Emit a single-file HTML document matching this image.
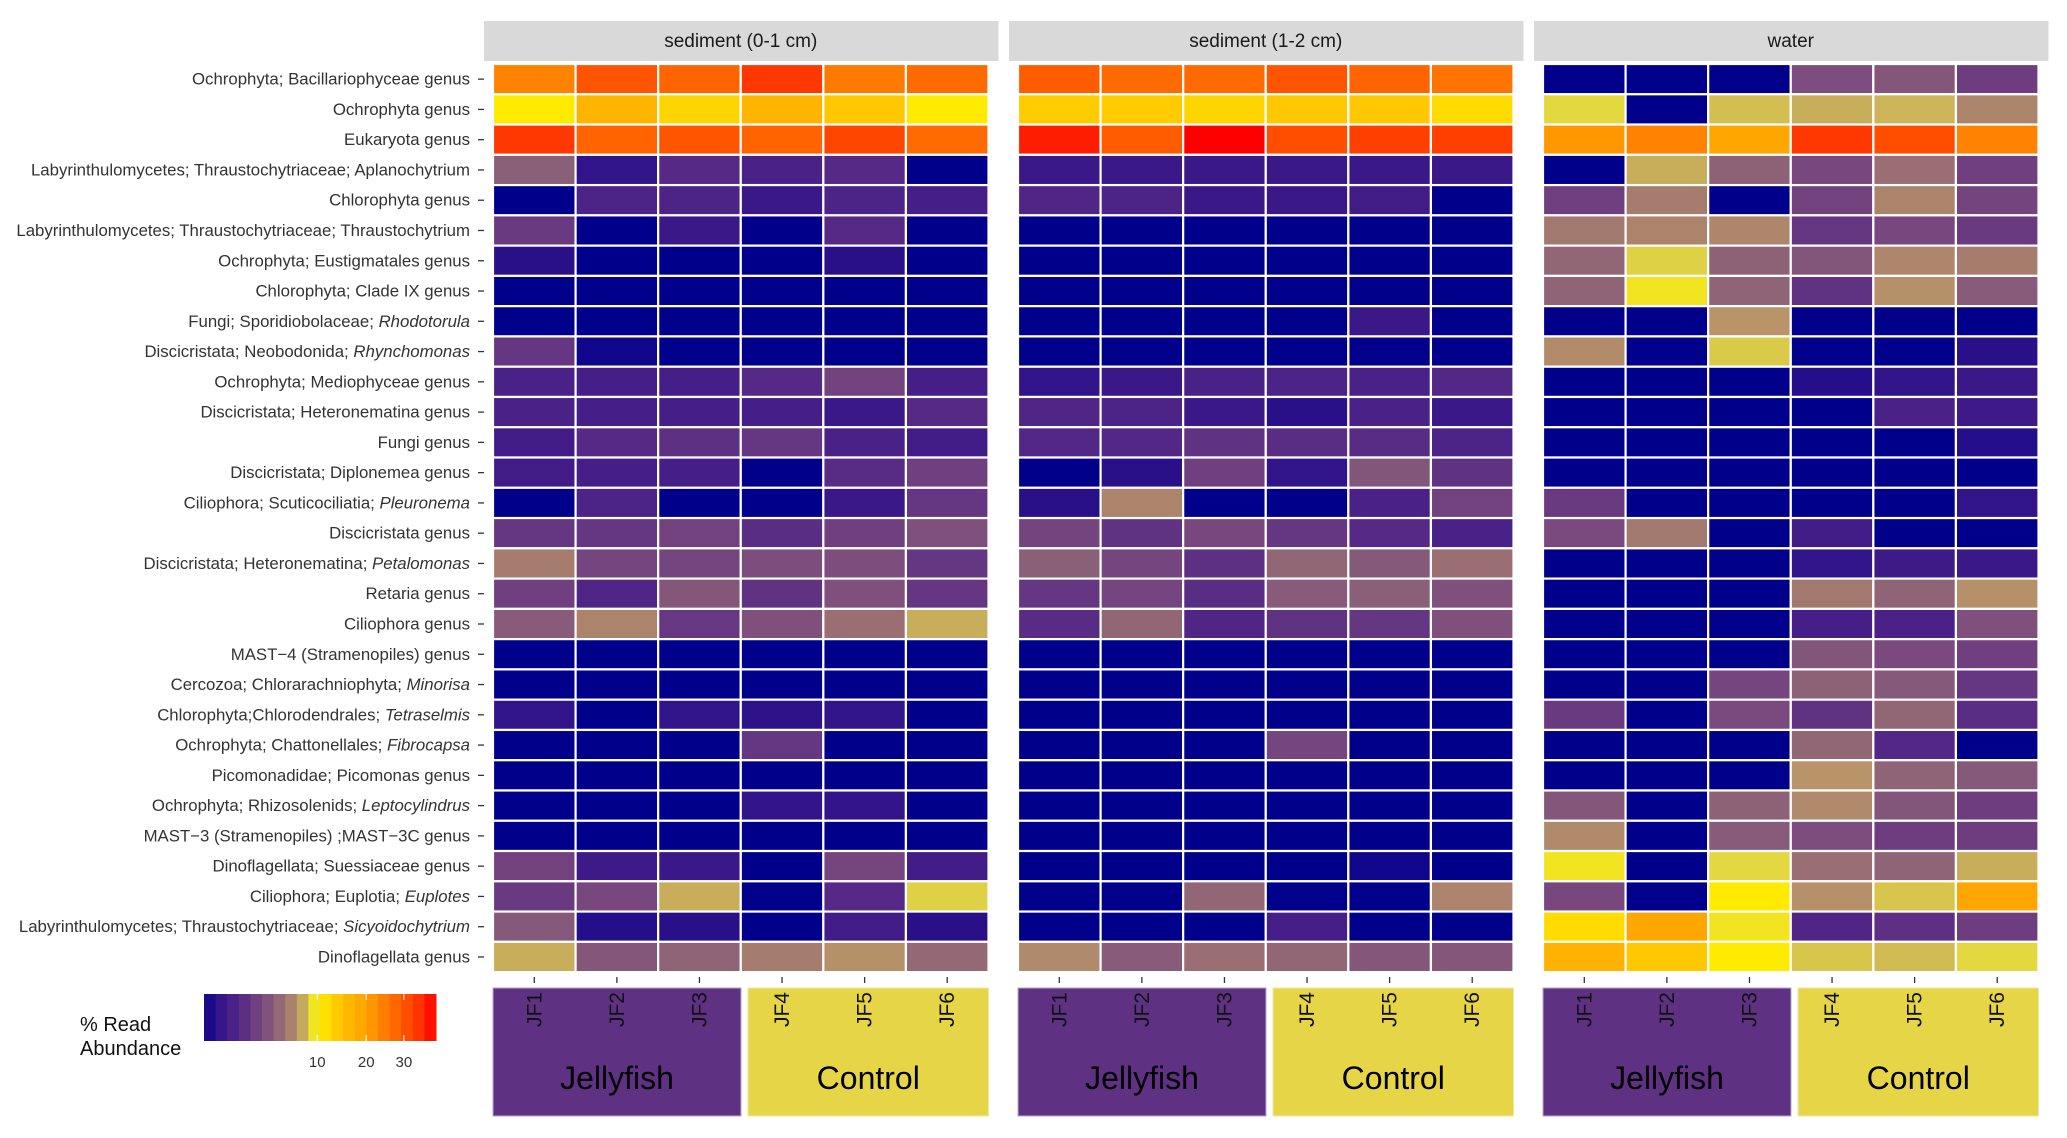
<!DOCTYPE html>
<html><head><meta charset="utf-8"><style>
html,body{margin:0;padding:0;background:#fff;}
svg text{font-family:"Liberation Sans",Arial,sans-serif;}
</style></head><body>
<svg id="chart" width="2067" height="1133" xmlns="http://www.w3.org/2000/svg"></svg>
<script>
const rowLabels=[["Ochrophyta; Bacillariophyceae genus",""],["Ochrophyta genus",""],["Eukaryota genus",""],["Labyrinthulomycetes; Thraustochytriaceae; Aplanochytrium",""],["Chlorophyta genus",""],["Labyrinthulomycetes; Thraustochytriaceae; Thraustochytrium",""],["Ochrophyta; Eustigmatales genus",""],["Chlorophyta; Clade IX genus",""],["Fungi; Sporidiobolaceae; ","Rhodotorula"],["Discicristata; Neobodonida; ","Rhynchomonas"],["Ochrophyta; Mediophyceae genus",""],["Discicristata; Heteronematina genus",""],["Fungi genus",""],["Discicristata; Diplonemea genus",""],["Ciliophora; Scuticociliatia; ","Pleuronema"],["Discicristata genus",""],["Discicristata; Heteronematina; ","Petalomonas"],["Retaria genus",""],["Ciliophora genus",""],["MAST\u22124 (Stramenopiles) genus",""],["Cercozoa; Chlorarachniophyta; ","Minorisa"],["Chlorophyta;Chlorodendrales; ","Tetraselmis"],["Ochrophyta; Chattonellales; ","Fibrocapsa"],["Picomonadidae; Picomonas genus",""],["Ochrophyta; Rhizosolenids; ","Leptocylindrus"],["MAST\u22123 (Stramenopiles) ;MAST\u22123C genus",""],["Dinoflagellata; Suessiaceae genus",""],["Ciliophora; Euplotia; ","Euplotes"],["Labyrinthulomycetes; Thraustochytriaceae; ","Sicyoidochytrium"],["Dinoflagellata genus",""]];
const samples=["JF1","JF2","JF3","JF4","JF5","JF6"];
const panels=["sediment (0-1 cm)","sediment (1-2 cm)","water"];
const groups=["Jellyfish","Control"];
const sed01=[
[24,30,28,34,25,27],[10.5,16.5,12.5,16.5,14,10.5],[34,28,30,28,32,27],[4,0.3,1.2,0.8,1.2,0],[0,0.9,0.9,0.4,0.9,0.7],
[2,0,0.4,0,1.2,0],[0.2,0,0,0,0.2,0],[0,0,0,0,0,0],[0,0,0,0,0,0],[1.8,0.05,0,0,0,0],
[0.8,0.7,0.7,1.2,2.5,0.7],[0.8,0.7,0.7,0.7,0.4,1.2],[0.6,1.2,1.5,1.8,0.8,0.6],[0.6,0.7,0.7,0,1.3,2.3],[0,0.9,0,0,0.4,1.8],
[1.8,1.8,2.5,1.4,2.3,3.3],[5.8,2.7,2.7,3.2,3.2,1.8],[2.3,1,3.6,1.6,3.3,1.8],[3.8,6.2,1.9,3.3,5,7.8],[0,0,0,0,0,0],
[0,0,0,0,0,0],[0.3,0,0.3,0.25,0.3,0],[0,0,0,1.8,0,0],[0,0,0,0,0,0],[0,0,0,0.3,0.3,0],
[0,0,0,0,0,0],[2.5,0.5,0.4,0,2.7,0.6],[2,2.8,7.8,0,1.2,8.8],[3.7,0.15,0.2,0,0.6,0.2],[7.8,3.6,4.3,5.8,6.8,4.6]];
const sed12=[
[29,27,27,30,28,26],[13.5,13.5,12.5,14,14,12],[37,29,40,31,33,33],[0.4,0.4,0.4,0.4,0.4,0.4],[1,0.9,0.4,0.4,0.6,0],
[0,0,0,0,0,0],[0,0,0,0,0,0],[0,0,0,0,0,0],[0,0,0,0,0.4,0],[0,0,0,0,0,0],
[0.3,0.4,0.8,0.9,0.8,1.1],[1,0.9,0.4,0.2,0.8,0.4],[1.1,1.1,1.6,1.4,1.3,0.9],[0,0.2,2.3,0.3,3.5,1.6],[0.2,6.2,0,0,0.8,2.5],
[2.6,1.6,2.8,1.8,1.2,0.8],[4,2.7,1.5,4.5,3.7,5],[1.8,2.7,1.4,3.8,4,3.3],[1.3,4.5,1,1.6,1.8,3.3],[0,0,0,0,0,0],
[0,0,0,0,0,0],[0,0,0,0,0,0],[0,0,0,2.7,0,0],[0,0,0,0,0,0],[0,0,0,0,0,0],
[0,0,0,0,0,0],[0,0,0,0,0.05,0],[0,0,4.5,0,0,6.2],[0,0,0,0.7,0,0],[6.5,3.8,5,4.5,3.6,3.6]];
const water=[
[0,0,0,3.2,3.6,2.2],[9,0,8.3,7.8,8,6.2],[21,24,19,34,31,24],[0,7.8,4.2,2.8,5,2.3],[2.3,5.8,0,2.5,6.2,2.6],
[5.6,6.2,6.3,1.8,2.8,2],[4.5,8.8,4.2,3.5,6.3,5.8],[4.3,9.5,4.3,1.6,6.8,3.8],[0,0,7,0,0,0],[6.6,0,8.6,0,0,0.2],
[0,0,0,0.15,0.3,0.4],[0,0,0,0,0.8,0.5],[0,0,0,0,0,0.15],[0,0,0,0,0,0],[2,0,0,0,0,0.3],
[3,5.6,0,0.6,0,0],[0,0,0,0.3,0.5,0.4],[0,0,0,5.6,4.3,6.8],[0,0,0,0.7,0.8,3.3],[0,0,0,3.5,3,2.3],
[0,0,2.7,4.2,3.7,1.8],[2,0,3,1.6,4.5,1.4],[0,0,0,4.5,1.1,0],[0,0,0,7,4.3,3.7],[3.6,0,4.2,6.5,3.5,2.2],
[6.5,0,3.8,3.2,2.2,2.2],[9.5,0,9,5,4.3,7.8],[2.8,0,10.5,6.8,8.5,19],[12,19,9.5,1,1.5,2.2],[17,14,10.5,8.5,8.2,9]];
const legendTicks=[10,20,30];

const stops=[[0,"#00008B"],[0.1,"#200C8A"],[0.4,"#3A1888"],[1,"#502586"],[2,"#6a3a80"],[3,"#7a4a7e"],[4,"#8a5f78"],[5,"#9a6e72"],[6,"#a8806c"],[7,"#b89468"],[8,"#ccb458"],[9,"#e4d840"],[10,"#fff000"],[13,"#ffd000"],[16,"#ffb800"],[20,"#ffa000"],[25,"#ff7a00"],[30,"#ff5500"],[35,"#ff3000"],[40,"#ff0000"]];
function hex(c){return [1,3,5].map(i=>parseInt(c.substr(i,2),16));}
function color(v){
  if(v<=0)return stops[0][1];
  for(let i=1;i<stops.length;i++){if(v<=stops[i][0]){const a=stops[i-1],b=stops[i];const f=(v-a[0])/(b[0]-a[0]);const ca=hex(a[1]),cb=hex(b[1]);return "rgb("+ca.map((x,k)=>Math.round(x+(cb[k]-x)*f)).join(",")+")";}}
  return "#ff0000";
}
const svg=document.getElementById("chart");const NS="http://www.w3.org/2000/svg";
function el(t,a,p){const e=document.createElementNS(NS,t);for(const k in a)e.setAttribute(k,a[k]);(p||svg).appendChild(e);return e;}
const panelX=[493,1018,1543],PW=495.5,Y0=64,RH=30.27,CW=PW/6;
const yPos=i=>Y0+i*RH, xPos=(p,j)=>panelX[p]+j*CW;
const data=[sed01,sed12,water];
rowLabels.forEach((l,i)=>{
  const t=el("text",{x:470,y:yPos(i)+RH/2+5.5,"text-anchor":"end","font-size":"16.8",fill:"#333"});
  
  
  const s1=el("tspan",{},t);s1.textContent=l[0];
  if(l[1]){const s2=el("tspan",{"font-style":"italic"},t);s2.textContent=l[1];}
  const tk=el("line",{x1:478,x2:484,y1:yPos(i)+RH/2,y2:yPos(i)+RH/2,stroke:"#333","stroke-width":1.3});
  
  
});
panels.forEach((pn,p)=>{
  const g=el("g",{});
  
  
  const st=el("rect",{x:panelX[p]-9,y:21,width:PW+19,height:40,fill:"#d9d9d9"},g);
  
  
  const stt=el("text",{x:panelX[p]+PW/2,y:47,"text-anchor":"middle","font-size":"19",fill:"#1a1a1a"},g);stt.textContent=pn;
  
  
  data[p].forEach((row,i)=>row.forEach((v,j)=>{
    const r=el("rect",{x:xPos(p,j),y:yPos(i),width:CW,height:RH,fill:color(v),stroke:"#fff","stroke-width":2.2},g);
    
    
  }));
  samples.forEach((s,j)=>{
    const cx=xPos(p,j)+CW/2;
    const tk=el("line",{x1:cx,x2:cx,y1:977,y2:983,stroke:"#333","stroke-width":1.3},g);
    
    
  });
  const gb=[[panelX[p],panelX[p]+248,"#5e3183"],[panelX[p]+255,panelX[p]+PW,"#e6d547"]];
  gb.forEach((b,k)=>{
    const r=el("rect",{x:b[0],y:988,width:b[1]-b[0],height:128,fill:b[2],stroke:k?"#f0e6a0":"#b9a6cf","stroke-width":1},g);
    
    
    const t=el("text",{x:(b[0]+b[1])/2,y:1089,"text-anchor":"middle","font-size":"32",fill:"#000"},g);t.textContent=groups[k];
    
    
  });
  samples.forEach((s,j)=>{
    const cx=xPos(p,j)+CW/2+7;
    const t=el("text",{x:0,y:0,"text-anchor":"end","font-size":"21",fill:"#111",transform:`translate(${cx},992) rotate(-90)`},g);t.textContent=s;
    
    
  });
});
const lg=el("g",{});


const lt1=el("text",{x:80,y:1031,"font-size":"20",fill:"#111"},lg);lt1.textContent="% Read";


const lt2=el("text",{x:80,y:1055,"font-size":"20",fill:"#111"},lg);lt2.textContent="Abundance";


const LX0=199,LS=37.4,LX1=436;
const lx=v=>LX0+Math.sqrt(v)*LS;
const nb=20,bw=(LX1-204)/nb;
for(let b=0;b<nb;b++){
  const xm=204+(b+0.5)*bw;const v=Math.pow((xm-LX0)/LS,2);
  const r=el("rect",{x:204+b*bw,y:994,width:bw+0.5,height:47,fill:color(v)},lg);
  
  
}
legendTicks.forEach(v=>{
  const x=lx(v);
  el("line",{x1:x,x2:x,y1:994,y2:1000,stroke:"#fff","stroke-width":1},lg);
  el("line",{x1:x,x2:x,y1:1035,y2:1041,stroke:"#fff","stroke-width":1},lg);
  const t=el("text",{x:x,y:1067,"text-anchor":"middle","font-size":"15",fill:"#333"},lg);t.textContent=v;
  
  
});
</script>
</body></html>
